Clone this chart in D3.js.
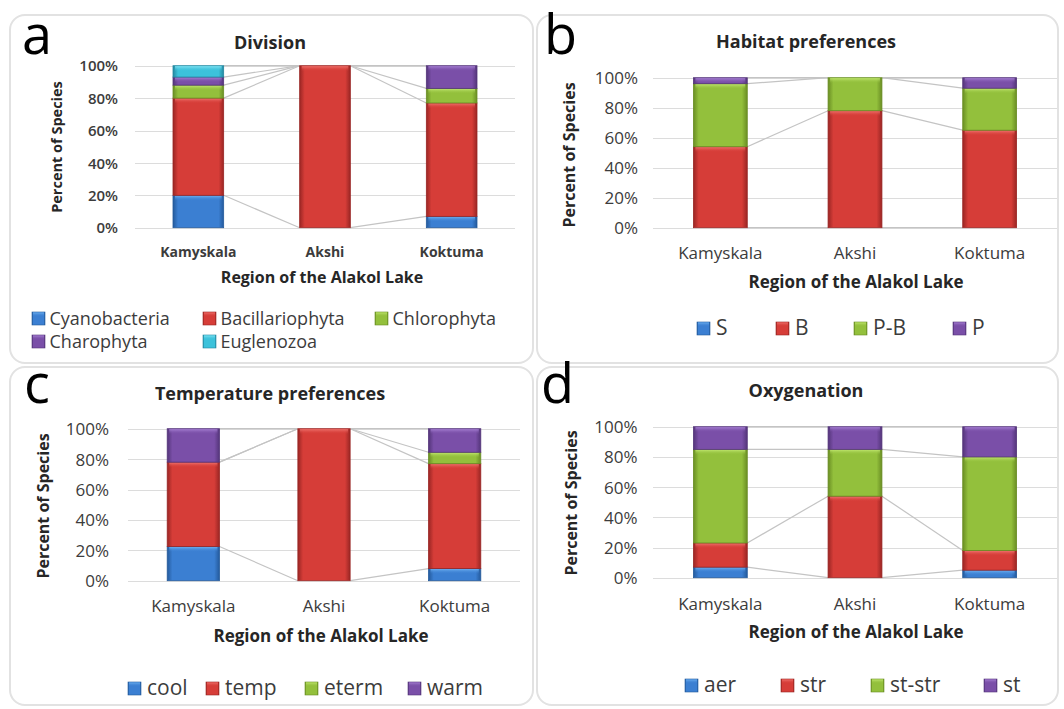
<!DOCTYPE html>
<html>
<head>
<meta charset="utf-8">
<script src="https://cdn.jsdelivr.net/npm/d3@7"></script>
<style>
  html, body { margin: 0; padding: 0; background: #ffffff; }
  svg { display: block; }
  text { font-family: "Open Sans", "Liberation Sans", sans-serif; }
</style>
</head>
<body>
<svg id="chart" width="1064" height="709"></svg>
<script>
// ---------------- DATA ----------------
const categories = ["Kamyskala", "Akshi", "Koktuma"];
const yTicks = [0, 20, 40, 60, 80, 100];
const tickLabels = ["0%", "20%", "40%", "60%", "80%", "100%"];
const yAxisTitle = "Percent of Species";
const xAxisTitle = "Region of the Alakol Lake";

// (a) Division
const divisionSeries = ["Cyanobacteria", "Bacillariophyta", "Chlorophyta", "Charophyta", "Euglenozoa"];
const cyanobacteria   = [20, 0, 7];
const bacillariophyta = [60, 100, 70];
const chlorophyta     = [8, 0, 9];
const charophyta      = [5, 0, 14];
const euglenozoa      = [7, 0, 0];

// (b) Habitat preferences
const habitatSeries = ["S", "B", "P-B", "P"];
const habitatS  = [0, 0, 0];
const habitatB  = [54, 78, 65];
const habitatPB = [42, 22, 28];
const habitatP  = [4, 0, 7];

// (c) Temperature preferences
const temperatureSeries = ["cool", "temp", "eterm", "warm"];
const tempCool  = [22.5, 0, 8];
const tempTemp  = [55.5, 100, 69];
const tempEterm = [0, 0, 7.5];
const tempWarm  = [22, 0, 15.5];

// (d) Oxygenation
const oxygenSeries = ["aer", "str", "st-str", "st"];
const oxyAer   = [7, 0, 5];
const oxyStr   = [16, 54, 13];
const oxyStStr = [62, 31, 62];
const oxySt    = [15, 15, 20];

// ---------------- STYLE ----------------
const palette = {
  blue:   { base: "#3b7fd2", light: "#6fb2f2", dark: "#245a9c" },
  red:    { base: "#d63d38", light: "#f07570", dark: "#9a2624" },
  green:  { base: "#93c03c", light: "#c3e872", dark: "#6a8e24" },
  purple: { base: "#7a4fa8", light: "#a983d6", dark: "#54357a" },
  cyan:   { base: "#3cc2db", light: "#86e4f4", dark: "#2488a0" }
};

const svg = d3.select("#chart");
const defs = svg.append("defs");

Object.entries(palette).forEach(([name, c]) => {
  const g = defs.append("linearGradient").attr("id", "grad-" + name)
    .attr("x1", "0%").attr("x2", "100%").attr("y1", "0%").attr("y2", "0%");
  g.append("stop").attr("offset", "0%").attr("stop-color", c.dark);
  g.append("stop").attr("offset", "10%").attr("stop-color", c.base);
  g.append("stop").attr("offset", "50%").attr("stop-color", c.base);
  g.append("stop").attr("offset", "90%").attr("stop-color", c.base);
  g.append("stop").attr("offset", "100%").attr("stop-color", c.dark);
  const v = defs.append("linearGradient").attr("id", "vgrad-" + name)
    .attr("x1", "0%").attr("x2", "0%").attr("y1", "0%").attr("y2", "100%");
  v.append("stop").attr("offset", "0%").attr("stop-color", c.light).attr("stop-opacity", 0.9);
  v.append("stop").attr("offset", "100%").attr("stop-color", c.base).attr("stop-opacity", 0);
});

// ---------------- PANELS ----------------
const panels = [
  {
    letter: "a", title: "Division",
    series: divisionSeries,
    values: [cyanobacteria, bacillariophyta, chlorophyta, charophyta, euglenozoa],
    colors: ["blue", "red", "green", "purple", "cyan"],
    box: [10, 15, 523, 348],
    letterPos: [22, 54],
    plot: { x0: 135, x1: 515, y0: 227.7, y1: 65.7 },
    titlePos: [270, 49], titleSize: 18,
    tickRight: 118, tickSize: 15, tickWeight: 600,
    yTitlePos: [57, 147], yTitleSize: 14.5,
    catBaseline: 257, catSize: 14, catWeight: 700,
    xTitlePos: [322, 283], xTitleSize: 16,
    legendSize: 18,
    legend: [[32, 325], [203, 325], [375, 325], [32, 348], [203, 348]]
  },
  {
    letter: "b", title: "Habitat preferences",
    series: habitatSeries,
    values: [habitatS, habitatB, habitatPB, habitatP],
    colors: ["blue", "red", "green", "purple"],
    box: [537, 15, 521, 348],
    letterPos: [544, 54],
    plot: { x0: 653, x1: 1057, y0: 227.7, y1: 77.7 },
    titlePos: [806, 48], titleSize: 18,
    tickRight: 638, tickSize: 17, tickWeight: 400,
    yTitlePos: [569, 155], yTitleSize: 16,
    catBaseline: 259, catSize: 17, catWeight: 400,
    xTitlePos: [856, 288], xTitleSize: 17,
    legendSize: 21,
    legend: [[697, 335], [776, 335], [854, 335], [953, 335]]
  },
  {
    letter: "c", title: "Temperature preferences",
    series: temperatureSeries,
    values: [tempCool, tempTemp, tempEterm, tempWarm],
    colors: ["blue", "red", "green", "purple"],
    box: [10, 367, 523, 338],
    letterPos: [24, 403],
    plot: { x0: 128, x1: 520, y0: 580.7, y1: 428.7 },
    titlePos: [270, 400], titleSize: 18,
    tickRight: 109, tickSize: 17, tickWeight: 400,
    yTitlePos: [43, 506], yTitleSize: 16,
    catBaseline: 612, catSize: 17, catWeight: 400,
    xTitlePos: [321, 642], xTitleSize: 17,
    legendSize: 21,
    legend: [[128, 695], [206, 695], [305, 695], [408, 695]]
  },
  {
    letter: "d", title: "Oxygenation",
    series: oxygenSeries,
    values: [oxyAer, oxyStr, oxyStStr, oxySt],
    colors: ["blue", "red", "green", "purple"],
    box: [537, 367, 521, 338],
    letterPos: [541, 403],
    plot: { x0: 653, x1: 1057, y0: 577.7, y1: 426.7 },
    titlePos: [806, 397], titleSize: 18,
    tickRight: 637.5, tickSize: 17, tickWeight: 400,
    yTitlePos: [571, 503], yTitleSize: 16,
    catBaseline: 610, catSize: 17, catWeight: 400,
    xTitlePos: [856, 638], xTitleSize: 17,
    legendSize: 21,
    legend: [[685, 692], [781, 692], [871, 692], [984, 692]]
  }
];

panels.forEach(p => {
  const g = svg.append("g");

  // panel frame
  g.append("rect")
    .attr("x", p.box[0]).attr("y", p.box[1])
    .attr("width", p.box[2]).attr("height", p.box[3])
    .attr("rx", 15).attr("ry", 15)
    .attr("fill", "#ffffff").attr("stroke", "#e2e2e2").attr("stroke-width", 2);

  // scales
  const x = d3.scaleBand().domain(categories)
    .range([p.plot.x0, p.plot.x1]).paddingInner(0.6).paddingOuter(0.3);
  const y = d3.scaleLinear().domain([0, 100]).range([p.plot.y0, p.plot.y1]);

  // gridlines
  g.append("g").selectAll("line").data(yTicks).join("line")
    .attr("x1", p.plot.x0).attr("x2", p.plot.x1)
    .attr("y1", d => Math.round(y(d)) + 0.5).attr("y2", d => Math.round(y(d)) + 0.5)
    .attr("stroke", "#dcdcdc").attr("stroke-width", 1);

  // y axis tick labels via d3 axis
  const yAxis = d3.axisLeft(y).tickValues(yTicks)
    .tickFormat((d, i) => tickLabels[i]).tickSize(0).tickPadding(0);
  const ya = g.append("g").attr("transform", `translate(${p.tickRight},0)`).call(yAxis);
  ya.select(".domain").remove();
  ya.selectAll("text")
    .attr("font-family", "Open Sans").attr("font-size", p.tickSize)
    .attr("font-weight", p.tickWeight).attr("fill", "#3c3c3c").attr("dy", "0.35em");

  // category labels via d3 axis
  const xAxis = d3.axisBottom(x).tickSize(0).tickPadding(0);
  const xa = g.append("g").attr("transform", `translate(0,${p.catBaseline})`).call(xAxis);
  xa.select(".domain").remove();
  xa.selectAll("text")
    .attr("y", 0).attr("dy", 0)
    .attr("font-family", "Open Sans").attr("font-size", p.catSize)
    .attr("font-weight", p.catWeight).attr("fill", "#3c3c3c");

  // stacked data
  const rows = categories.map((c, i) => {
    const o = { cat: c };
    p.series.forEach((s, k) => { o[s] = p.values[k][i]; });
    return o;
  });
  const stacked = d3.stack().keys(p.series)(rows);

  // series lines (connect tops of each series between adjacent bars)
  const lines = [];
  stacked.forEach(layer => {
    for (let i = 0; i < categories.length - 1; i++) {
      lines.push({
        x1: x(categories[i]) + x.bandwidth(), y1: y(layer[i][1]),
        x2: x(categories[i + 1]), y2: y(layer[i + 1][1])
      });
    }
  });
  g.append("g").selectAll("line").data(lines).join("line")
    .attr("x1", d => d.x1).attr("y1", d => d.y1)
    .attr("x2", d => d.x2).attr("y2", d => d.y2)
    .attr("stroke", "#c4c4c4").attr("stroke-width", 1.2);

  // bars
  stacked.forEach((layer, k) => {
    const col = p.colors[k];
    const segs = layer.map((d, i) => ({ cat: categories[i], y0: d[0], y1: d[1] }))
      .filter(d => d.y1 - d.y0 > 0);
    const lg = g.append("g");
    lg.selectAll("rect.seg").data(segs).join("rect").attr("class", "seg")
      .attr("x", d => x(d.cat)).attr("width", x.bandwidth())
      .attr("y", d => y(d.y1)).attr("height", d => y(d.y0) - y(d.y1))
      .attr("fill", `url(#grad-${col})`)
      .attr("stroke", palette[col].dark).attr("stroke-width", 0.8);
    lg.selectAll("rect.hl").data(segs).join("rect").attr("class", "hl")
      .attr("x", d => x(d.cat) + 2).attr("width", x.bandwidth() - 4)
      .attr("y", d => y(d.y1) + 0.5)
      .attr("height", d => Math.min(5, y(d.y0) - y(d.y1) - 1))
      .attr("fill", `url(#vgrad-${col})`);
  });

  // panel letter
  g.append("text")
    .attr("x", p.letterPos[0]).attr("y", p.letterPos[1])
    .attr("font-family", "Liberation Serif, DejaVu Serif, serif")
    .attr("font-size", 54).attr("fill", "#000")
    .text(p.letter);

  // title
  g.append("text")
    .attr("x", p.titlePos[0]).attr("y", p.titlePos[1])
    .attr("text-anchor", "middle").attr("font-size", p.titleSize)
    .attr("font-weight", 700).attr("fill", "#262626")
    .text(p.title);

  // y axis title
  g.append("text")
    .attr("transform", `translate(${p.yTitlePos[0]},${p.yTitlePos[1]}) rotate(-90)`)
    .attr("text-anchor", "middle").attr("dy", "0.35em")
    .attr("font-size", p.yTitleSize).attr("font-weight", 700).attr("fill", "#262626")
    .text(yAxisTitle);

  // x axis title
  g.append("text")
    .attr("x", p.xTitlePos[0]).attr("y", p.xTitlePos[1])
    .attr("text-anchor", "middle")
    .attr("font-size", p.xTitleSize).attr("font-weight", 700).attr("fill", "#262626")
    .text(xAxisTitle);

  // legend
  const items = p.series.map((s, k) => ({ name: s, col: p.colors[k], pos: p.legend[k] }));
  const li = g.append("g").selectAll("g").data(items).join("g")
    .attr("transform", d => `translate(${d.pos[0]},${d.pos[1]})`);
  li.append("rect")
    .attr("x", 0).attr("y", -13).attr("width", 13).attr("height", 13)
    .attr("fill", d => `url(#grad-${d.col})`)
    .attr("stroke", d => palette[d.col].dark).attr("stroke-width", 0.6);
  li.append("rect")
    .attr("x", 1).attr("y", -12.5).attr("width", 11).attr("height", 4)
    .attr("fill", d => `url(#vgrad-${d.col})`);
  li.append("text")
    .attr("x", p.legendSize > 19 ? 19 : 17.5).attr("y", 0)
    .attr("font-size", p.legendSize).attr("fill", "#3c3c3c")
    .text(d => d.name);
});
</script>
</body>
</html>
